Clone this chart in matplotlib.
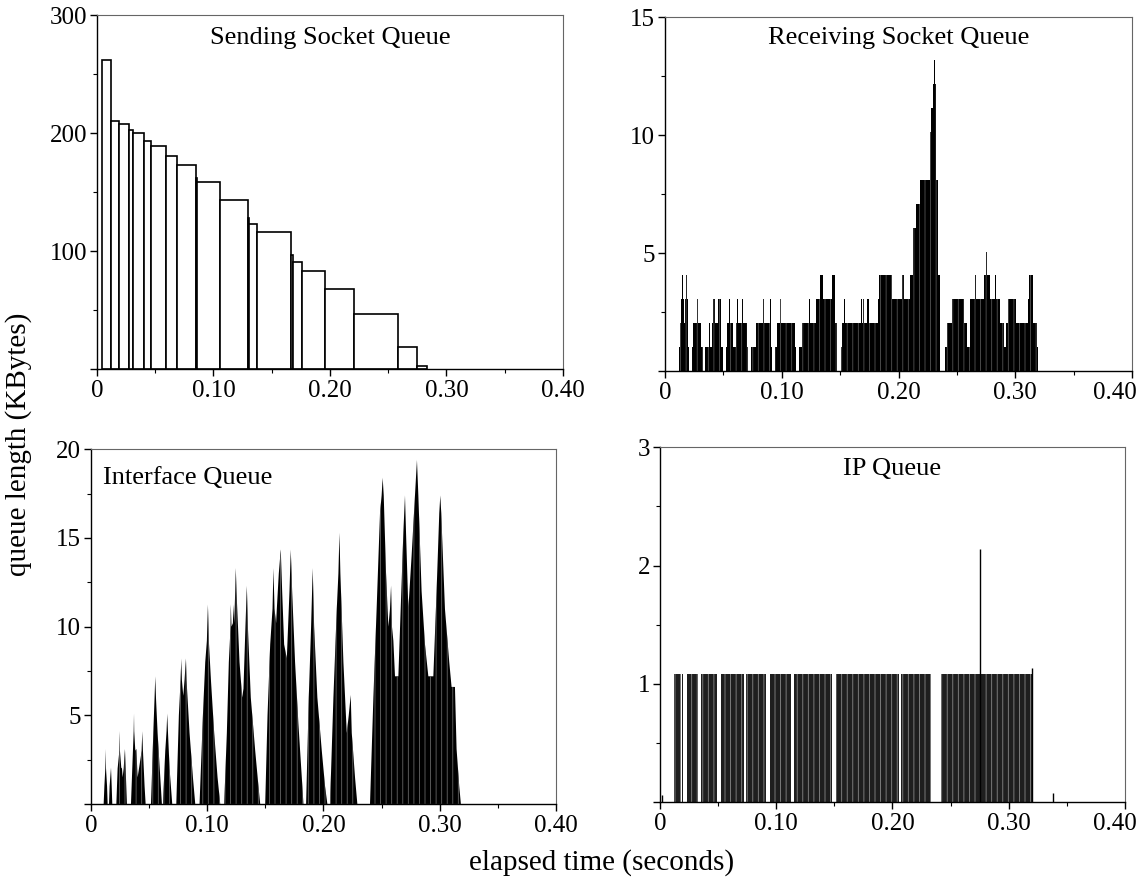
import matplotlib.pyplot as plt
from matplotlib.ticker import MultipleLocator, FuncFormatter
from matplotlib.transforms import ScaledTranslation

plt.rcParams['font.family'] = ['Liberation Serif', 'DejaVu Serif']
plt.rcParams['hatch.linewidth'] = 0.6

# Sending socket queue: bar edges (s) and height of each bar (KB)
send_edges = [0.0043, 0.0123, 0.0191, 0.0275, 0.0312, 0.0406, 0.0466, 0.0592,
              0.0689, 0.0850, 0.0856, 0.1058, 0.1294, 0.1307, 0.1376, 0.1668,
              0.1682, 0.1762, 0.1957, 0.2203, 0.2586, 0.2749, 0.2835]
send_kb = [262, 210, 208, 203, 200, 193, 189.5, 180.5, 173, 161.6, 158.7,
           143, 127.7, 122.6, 115.8, 97, 91, 82.8, 67.5, 46.3, 18.4, 2.8]

# Receiving socket queue: step change times (ms) and queued packets
recv_ms = [12.3, 13.1, 14.0, 14.6, 15.1, 16.6, 17.4, 18.0, 18.6, 19.7, 20.9,
           23.4, 24.3, 27.1, 28.0, 30.9, 32.3,
           34.6, 38.0, 38.9, 40.6, 41.4, 43.1, 45.7, 48.0, 49.4,
           52.3, 53.4, 55.1, 55.7, 58.6, 60.9, 62.0, 62.6, 65.7, 66.6, 70.0, 71.4,
           73.7, 78.0, 83.7, 84.6, 89.7, 90.6, 91.4,
           94.6, 95.7, 98.6, 99.4, 111.7, 112.3,
           114.9, 117.1, 123.7, 124.3, 129.4, 132.9, 134.9, 143.1, 146.0, 147.1,
           150.9, 152.0, 153.4, 154.3, 167.7, 168.6, 169.4, 170.3, 173.4, 174.3,
           182.3, 183.1, 188.9, 189.7, 194.0, 203.4, 204.3, 210.0, 212.6, 214.6,
           218.6, 220.6, 221.1, 226.6, 228.0, 229.1, 230.6, 231.1, 232.0, 233.4, 235.1,
           240.0, 241.4, 245.7, 255.7, 258.6, 260.9, 265.7, 266.3, 268.6, 269.1,
           273.4, 274.6, 275.4, 278.6, 282.6, 283.1, 287.1, 290.6, 292.3, 293.4,
           300.6, 310.6, 312.0, 314.9, 318.6, 319.4]
recv_pkts = [1, 2, 3, 4, 3, 2, 3, 4, 3, 1, 0,
             1, 2, 3, 2, 1, 0,
             1, 2, 1, 2, 3, 2, 3, 1, 0,
             1, 2, 3, 2, 1, 2, 3, 2, 3, 2, 1, 0,
             1, 2, 3, 2, 3, 1, 0,
             1, 2, 3, 2, 1, 0,
             1, 2, 3, 2, 3, 4, 3, 4, 2, 0,
             1, 2, 3, 2, 3, 2, 3, 2, 3, 2,
             3, 4, 5, 4, 3, 4, 3, 4, 6, 7,
             8, 9, 8, 10, 11, 12, 13, 12, 8, 4, 0,
             1, 2, 3, 2, 1, 3, 4, 3, 4, 3,
             4, 5, 4, 3, 4, 3, 2, 1, 2, 3,
             2, 3, 4, 2, 1, 0]
recv_pkt_kb = 1.013

# Interface queue: outline of the queue length (ms, KB), zero between bursts
if_ms = [10.9, 11.5, 12.3, 12.6, 12.9, 13.8, 14.3,
         15.5, 16.0, 17.2, 17.8, 18.3,
         21.8, 22.9, 24.4, 24.6, 24.9, 26.1, 26.6, 27.2, 28.1, 29.2, 29.8, 30.9,
         34.4, 35.5, 36.7, 37.0, 37.2, 38.1, 39.0, 40.1, 41.3, 43.6, 44.1, 44.7, 46.1, 47.0,
         51.6, 53.6, 54.7, 55.3, 55.9, 57.3, 59.6, 61.0,
         61.9, 63.9, 65.0, 65.6, 66.2, 67.6, 69.9,
         73.4, 75.6, 77.1, 77.7, 78.2, 79.4, 80.5, 81.7, 82.2, 84.8, 87.7, 89.7,
         93.4, 96.3, 98.3, 99.7, 100.6, 101.4, 103.2, 106.0, 108.9, 111.2,
         114.6, 116.9, 118.6, 120.1, 120.3, 120.9, 122.1, 122.6, 123.2, 124.1,
         124.6, 125.2, 127.8, 130.1, 131.2, 132.9, 134.1, 135.0, 137.5, 141.3,
         144.1, 145.6,
         149.9, 151.9, 154.2, 156.2, 157.0, 157.9, 159.3, 159.9, 161.6, 163.3,
         164.5, 166.2, 168.5, 170.8, 171.9, 173.1, 175.6, 178.5, 181.4, 182.8,
         185.1, 187.4, 189.4, 190.8, 192.0, 194.8, 198.6, 201.4, 203.4,
         205.7, 208.6, 211.5, 212.9, 213.8, 214.6, 217.2, 220.1, 221.8, 223.5,
         224.4, 227.2, 229.2,
         240.1, 243.0, 245.8, 248.7, 250.1, 251.0, 251.9, 253.9, 255.9, 257.3,
         258.2, 259.0, 260.2, 261.6, 264.5, 266.5, 268.8, 270.2, 271.1, 273.1,
         275.9, 278.8, 280.5, 281.7, 284.5, 287.4, 290.3, 294.6, 297.4, 299.7,
         300.6, 301.4, 304.6, 308.3, 310.3, 313.2, 314.6, 316.9, 318.3]
if_kb = [0, 1.0, 2.0, 3.1, 2.0, 1.0, 0,
         0, 1.0, 2.05, 1.0, 0,
         0, 2.0, 3.0, 4.1, 3.0, 2.0, 2.05, 1.5, 2.0, 3.1, 2.0, 0,
         0, 2.0, 4.1, 5.1, 4.1, 3.0, 3.1, 1.5, 2.0, 3.0, 4.1, 3.0, 1.0, 0,
         0, 4.0, 6.0, 7.2, 6.0, 4.0, 1.5, 0,
         0, 3.0, 4.1, 5.1, 4.1, 2.0, 0,
         0, 5.0, 7.0, 8.2, 7.0, 6.1, 7.0, 8.2, 7.0, 4.0, 1.5, 0,
         0, 5.0, 8.0, 9.2, 11.25, 9.2, 7.0, 4.0, 1.5, 0,
         0, 4.0, 8.0, 10.0, 11.25, 10.0, 10.2, 11.25, 10.2, 12.0,
         13.3, 12.0, 8.0, 6.0, 6.5, 10.0, 12.3, 10.0, 6.0, 3.0,
         1.0, 0,
         0, 5.0, 9.0, 11.0, 13.3, 11.0, 10.2, 11.0, 13.0, 14.35,
         12.0, 9.0, 8.2, 12.0, 14.35, 12.0, 8.0, 4.5, 1.5, 0,
         0, 6.0, 10.0, 13.3, 10.0, 6.0, 3.0, 1.0, 0,
         0, 6.0, 11.0, 13.0, 15.3, 13.0, 8.0, 4.0, 5.0, 6.15,
         4.0, 1.5, 0,
         0, 6.0, 11.0, 16.4, 17.4, 18.4, 17.4, 13.0, 10.0, 11.0,
         12.3, 10.0, 9.2, 7.2, 7.2, 11.0, 15.3, 17.4, 15.3, 11.0,
         14.0, 17.4, 19.4, 17.4, 12.0, 9.0, 7.2, 7.2, 12.0, 16.4,
         17.4, 16.4, 11.0, 8.0, 6.6, 6.6, 3.1, 1.0, 0]

# IP queue: busy intervals (s) holding one packet, plus isolated spikes
ip_start = [0.0120, 0.0192, 0.0232, 0.0353, 0.0525, 0.0740, 0.0949, 0.1156,
            0.1514, 0.2073, 0.2415]
ip_end = [0.0181, 0.0201, 0.0330, 0.0488, 0.0720, 0.0909, 0.1130, 0.1477,
          0.2056, 0.2329, 0.3203]
ip_level_kb = 1.08
ip_spike_t = [0.0020, 0.2750, 0.3203, 0.3384]
ip_spike_kb = [0.06, 2.14, 1.13, 0.08]

x_ticks = [0, 0.1, 0.2, 0.3, 0.4]
x_labels = ['0', '0.10', '0.20', '0.30', '0.40']

FS = 18
fig = plt.figure(figsize=(11.42, 8.80), dpi=100)
ax_s = fig.add_axes([0.0849, 0.5807, 0.408, 0.402])
ax_r = fig.add_axes([0.5823, 0.5784, 0.409, 0.402])
ax_i = fig.add_axes([0.0797, 0.0864, 0.407, 0.403])
ax_p = fig.add_axes([0.5780, 0.0886, 0.407, 0.403])


def style(ax, ymax, ymajor, last_shift=None):
    ax.set_xlim(0, 0.4)
    ax.set_ylim(0, ymax)
    ax.set_xticks(x_ticks, x_labels)
    ax.xaxis.set_minor_locator(MultipleLocator(0.05))
    ax.yaxis.set_major_locator(MultipleLocator(ymajor))
    ax.yaxis.set_minor_locator(MultipleLocator(ymajor / 2))
    ax.yaxis.set_major_formatter(FuncFormatter(lambda v, p: '' if abs(v) < 1e-9 else f'{v:g}'))
    ax.tick_params(which='major', direction='out', length=5, width=1, labelsize=FS, pad=3)
    ax.tick_params(axis='y', which='major', pad=2)
    ax.tick_params(which='minor', direction='out', length=3, width=0.8)
    for side in ['top', 'right']:
        ax.spines[side].set_color('#666666')
        ax.spines[side].set_linewidth(0.8)
    for side in ['left', 'bottom']:
        ax.spines[side].set_linewidth(1.0)
    if last_shift is not None:
        # keep the right-hand 0.40 label inside the figure
        lab = ax.get_xticklabels()[-1]
        lab.set_horizontalalignment('right')
        lab.set_transform(lab.get_transform() +
                          ScaledTranslation(last_shift / 100, 0, fig.dpi_scale_trans))


# sending socket queue
widths = [b - a for a, b in zip(send_edges[:-1], send_edges[1:])]
ax_s.bar(send_edges[:-1], send_kb, width=widths, align='edge',
         facecolor='white', edgecolor='black', linewidth=1.2)
style(ax_s, 300, 100)
ax_s.text(0.5, 0.935, 'Sending Socket Queue', transform=ax_s.transAxes,
          ha='center', va='center', fontsize=19)

# receiving socket queue
recv_t = [m / 1000 for m in recv_ms]
recv_kb = [k * recv_pkt_kb for k in recv_pkts]
ax_r.fill_between(recv_t, recv_kb, step='post', facecolor='black',
                  edgecolor='#555555', hatch='|||', linewidth=0)
style(ax_r, 15, 5, last_shift=5)
ax_r.text(0.5, 0.94, 'Receiving Socket Queue', transform=ax_r.transAxes,
          ha='center', va='center', fontsize=19)

# interface queue
if_t = [m / 1000 for m in if_ms]
ax_i.fill(if_t, if_kb, facecolor='black', edgecolor='#666666',
          hatch='|||', linewidth=0)
style(ax_i, 20, 5)
ax_i.text(0.025, 0.918, 'Interface Queue', transform=ax_i.transAxes,
          ha='left', va='center', fontsize=19)

# IP queue
ip_w = [b - a for a, b in zip(ip_start, ip_end)]
ax_p.bar(ip_start, ip_level_kb, width=ip_w, align='edge', facecolor='#1e1e1e',
         edgecolor='#888888', hatch='|||', linewidth=0)
ax_p.vlines(ip_spike_t, 0, ip_spike_kb, color='black', linewidth=1)
style(ax_p, 3, 1, last_shift=12)
ax_p.text(0.5, 0.938, 'IP Queue', transform=ax_p.transAxes,
          ha='center', va='center', fontsize=19)

fig.text(0.016, 0.495, 'queue length (KBytes)', rotation=90,
         ha='center', va='center', fontsize=21)
fig.text(0.527, 0.02, 'elapsed time (seconds)', ha='center', va='center',
         fontsize=21)

fig.savefig('out.png', dpi=100)
